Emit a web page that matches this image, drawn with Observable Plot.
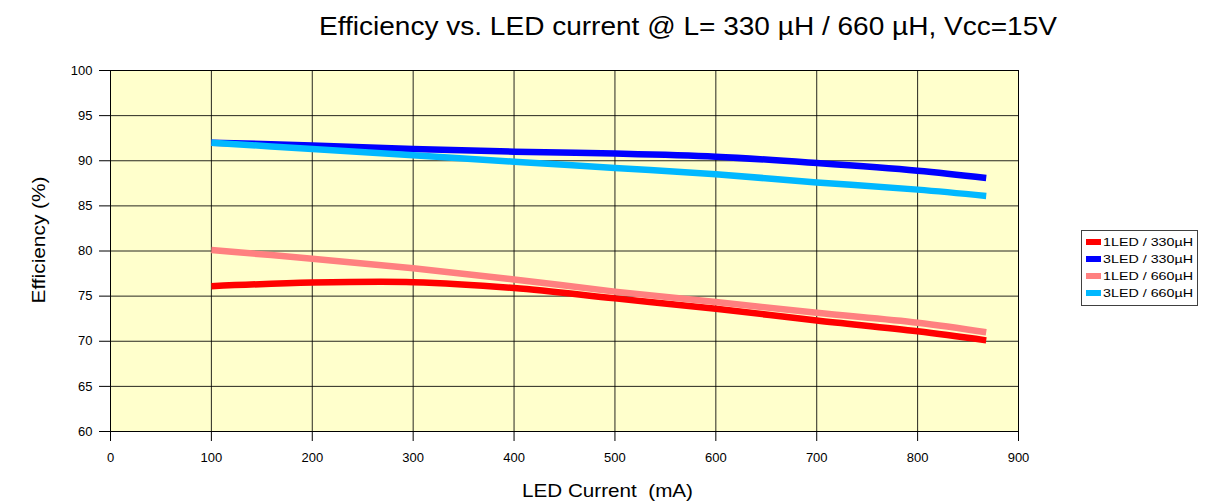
<!DOCTYPE html>
<html><head><meta charset="utf-8">
<script src="https://cdn.jsdelivr.net/npm/d3@7"></script>
<script src="https://cdn.jsdelivr.net/npm/@observablehq/plot@0.6"></script>
<style>
body{margin:0;background:#fff;font-family:"Liberation Sans",Arial,sans-serif;}
#wrap{position:relative;width:1208px;height:502px;overflow:hidden;}
#chart{position:absolute;left:0;top:0;}
#title{position:absolute;left:319px;top:14px;transform-origin:0 0;white-space:nowrap;font-size:25px;line-height:25px;color:#000;}
#xlabel{position:absolute;left:522px;top:481px;transform-origin:0 0;white-space:pre;font-size:19px;line-height:19px;color:#000;}
#ylabel{position:absolute;left:39.4px;top:240px;white-space:nowrap;font-size:18px;line-height:18px;color:#000;}
#legend{position:absolute;left:1081px;top:230px;width:117px;height:76px;box-sizing:border-box;border:1px solid #404040;background:#fff;}
.item{position:absolute;left:0;height:14px;}
.sw{position:absolute;left:4px;top:4px;width:15px;height:6px;}
.lt{position:absolute;left:21px;top:0;font-size:10.5px;line-height:14px;white-space:nowrap;color:#000;transform-origin:0 50%;}
</style></head><body>
<div id="wrap">
<div id="chart"></div>
<div id="title">Efficiency vs. LED current @ L= 330 µH / 660 µH, Vcc=15V</div>
<div id="ylabel">Efficiency (%)</div>
<div id="xlabel">LED Current  (mA)</div>
<div id="legend"></div>
</div>
<script>
// Data
const current = [100, 200, 300, 400, 500, 600, 700, 800, 868];
const eff1Led330 = [76.1, 76.5, 76.55, 75.9, 74.75, 73.6, 72.3, 71.1, 70.1];
const eff3Led330 = [92.0, 91.7, 91.3, 91.0, 90.8, 90.45, 89.75, 88.9, 88.1];
const eff1Led660 = [80.1, 79.15, 78.1, 76.85, 75.5, 74.35, 73.15, 72.05, 71.0];
const eff3Led660 = [92.0, 91.3, 90.6, 89.9, 89.2, 88.5, 87.6, 86.8, 86.1];
const seriesNames = ["1LED / 330µH", "3LED / 330µH", "1LED / 660µH", "3LED / 660µH"];
const seriesColors = ["#FF0000", "#0000FF", "#FF8080", "#00B8FF"];
const xTicks = [0, 100, 200, 300, 400, 500, 600, 700, 800, 900];
const yTicks = [60, 65, 70, 75, 80, 85, 90, 95, 100];

const seriesValues = [eff1Led330, eff3Led330, eff1Led660, eff3Led660];
const rows = [];
seriesNames.forEach((name, i) => {
  current.forEach((c, j) => rows.push({series: name, current: c, eff: seriesValues[i][j]}));
});

const chart = Plot.plot({
  width: 1208,
  height: 502,
  marginLeft: 110,
  marginRight: 190,
  marginTop: 70,
  marginBottom: 71,
  style: {fontFamily: '"Liberation Sans", Arial, sans-serif', fontSize: "13px", color: "#000", background: "transparent", overflow: "visible"},
  x: {domain: [0, 900]},
  y: {domain: [60, 100]},
  color: {domain: seriesNames, range: seriesColors},
  marks: [
    Plot.frame({fill: "#FFFFCC"}),
    Plot.gridX(xTicks, {stroke: "#000", strokeOpacity: 0.85, strokeWidth: 1}),
    Plot.gridY(yTicks, {stroke: "#000", strokeOpacity: 0.85, strokeWidth: 1}),
    Plot.axisX({ticks: xTicks, tickSize: 10, tickPadding: 11, label: null, fontSize: 13, stroke: "#000"}),
    Plot.axisY({ticks: yTicks, tickSize: 11, tickPadding: 7, label: null, fontSize: 13, stroke: "#000"}),
    Plot.line(rows, {x: "current", y: "eff", z: "series", stroke: "series", strokeWidth: 6.5, curve: "catmull-rom", strokeLinecap: "butt", strokeLinejoin: "round"}),
    Plot.frame({stroke: "#000", strokeWidth: 1})
  ]
});
document.getElementById("chart").appendChild(chart);

const legend = document.getElementById("legend");
const rowTops = [4, 21, 38, 55];
const lts = [];
seriesNames.forEach((name, i) => {
  const it = document.createElement("div");
  it.className = "item";
  it.style.top = rowTops[i] + "px";
  const sw = document.createElement("div");
  sw.className = "sw";
  sw.style.background = seriesColors[i];
  const lt = document.createElement("div");
  lt.className = "lt";
  lt.textContent = name;
  it.appendChild(sw); it.appendChild(lt);
  legend.appendChild(it);
  lts.push(lt);
});

// horizontal stretch of texts to match the reference widths
function fit(el, target) {
  const w = el.getBoundingClientRect().width;
  return target / w;
}
const t = document.getElementById("title");
t.style.transform = `scaleX(${fit(t, 738)})`;
const xl = document.getElementById("xlabel");
xl.style.transform = `scaleX(${fit(xl, 171)})`;
const yl = document.getElementById("ylabel");
const ys = fit(yl, 127);
yl.style.transform = `translate(-50%,-50%) rotate(-90deg) scaleX(${ys})`;
const ls = fit(lts[0], 90);
lts.forEach(l => l.style.transform = `scaleX(${ls})`);
</script>
</body></html>
